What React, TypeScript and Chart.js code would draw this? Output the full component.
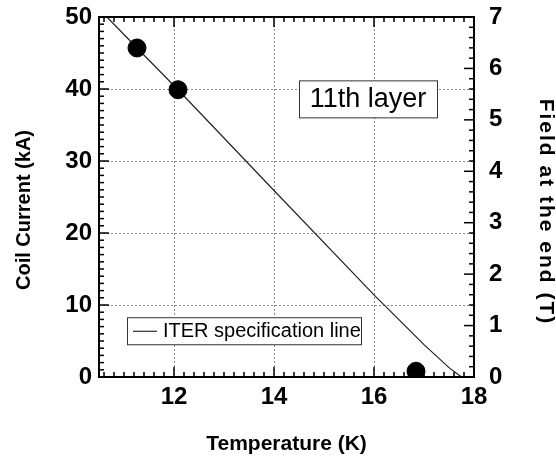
import React, { useEffect, useRef } from 'react';
import { Chart, registerables } from 'chart.js';

Chart.register(...registerables);

// ---- data ----
const specTemperature = [10.66, 11.26, 12.08, 14, 16, 17, 17.5, 17.75];
const specCurrent = [50, 45.7, 39.9, 25.9, 11.4, 4.5, 1.3, 0];
const measTemperature = [11.26, 12.08, 16.84];
const measCurrent = [45.7, 39.9, 0.8];
const xTicks = [12, 14, 16, 18];
const yTicks = [0, 10, 20, 30, 40, 50];
const y2Ticks = [0, 1, 2, 3, 4, 5, 6, 7];
const xTitle = 'Temperature (K)';
const yTitle = 'Coil Current (kA)';
const y2Title = 'Field at the end (T)';
const legendLabel = 'ITER specification line';
const annotationText = '11th layer';

const FONT = '"Liberation Sans", Arial, Helvetica, sans-serif';

const framePlugin = {
  id: 'frame',
  beforeDatasetsDraw(chart: any) {
    const { ctx, chartArea: a, scales } = chart;
    ctx.save();
    ctx.strokeStyle = '#8c8c8c';
    ctx.lineWidth = 1;
    ctx.setLineDash([2, 2]);
    xTicks.forEach((v) => {
      if (v <= scales.x.min || v >= scales.x.max) return;
      const px = Math.round(scales.x.getPixelForValue(v)) + 0.5;
      ctx.beginPath();
      ctx.moveTo(px, a.top);
      ctx.lineTo(px, a.bottom);
      ctx.stroke();
    });
    yTicks.forEach((v) => {
      if (v <= scales.y.min || v >= scales.y.max) return;
      const py = Math.round(scales.y.getPixelForValue(v)) + 0.5;
      ctx.beginPath();
      ctx.moveTo(a.left, py);
      ctx.lineTo(a.right, py);
      ctx.stroke();
    });
    ctx.restore();
  },
  afterDatasetsDraw(chart: any) {
    const { ctx, chartArea: a, scales } = chart;
    ctx.save();
    ctx.setLineDash([]);
    ctx.strokeStyle = '#000';
    ctx.lineWidth = 1.5;
    const major = 10;
    const minor = 5;
    for (let k = Math.ceil(scales.x.min * 5); k <= Math.floor(scales.x.max * 5); k++) {
      const v = k / 5;
      const isMajor = xTicks.some((t) => Math.abs(t - v) < 1e-6);
      const len = isMajor ? major : minor;
      const px = scales.x.getPixelForValue(v);
      ctx.beginPath();
      ctx.moveTo(px, a.bottom);
      ctx.lineTo(px, a.bottom - len);
      ctx.moveTo(px, a.top);
      ctx.lineTo(px, a.top + len);
      ctx.stroke();
    }
    for (let v = scales.y.min; v <= scales.y.max; v += 1) {
      const isMajor = yTicks.includes(v);
      const len = isMajor ? major : minor;
      const py = scales.y.getPixelForValue(v);
      ctx.beginPath();
      ctx.moveTo(a.left, py);
      ctx.lineTo(a.left + len, py);
      ctx.stroke();
    }
    for (let k = 0; k <= Math.round(scales.y2.max * 5); k++) {
      const v = k / 5;
      const isMajor = y2Ticks.some((t) => Math.abs(t - v) < 1e-6);
      const len = isMajor ? major : minor;
      const py = scales.y2.getPixelForValue(v);
      ctx.beginPath();
      ctx.moveTo(a.right, py);
      ctx.lineTo(a.right - len, py);
      ctx.stroke();
    }
    ctx.lineWidth = 2;
    ctx.strokeRect(a.left, a.top, a.right - a.left, a.bottom - a.top);

    // legend box
    const lx = scales.x.getPixelForValue(11.06);
    const ly = scales.y.getPixelForValue(8.3);
    const lw = 234;
    const lh = 27;
    ctx.fillStyle = '#fff';
    ctx.fillRect(lx, ly, lw, lh);
    ctx.lineWidth = 1;
    ctx.strokeStyle = '#333';
    ctx.strokeRect(lx + 0.5, ly + 0.5, lw, lh);
    ctx.strokeStyle = '#000';
    ctx.beginPath();
    ctx.moveTo(lx + 6, ly + lh / 2 + 0.5);
    ctx.lineTo(lx + 30, ly + lh / 2 + 0.5);
    ctx.stroke();
    ctx.fillStyle = '#000';
    ctx.font = `20px ${FONT}`;
    ctx.textAlign = 'left';
    ctx.textBaseline = 'middle';
    ctx.fillText(legendLabel, lx + 36, ly + lh / 2 + 1);

    // annotation box
    const ax = scales.x.getPixelForValue(14.5);
    const ay = scales.y.getPixelForValue(41.2);
    const aw = 138;
    const ah = 37;
    ctx.fillStyle = '#fff';
    ctx.fillRect(ax, ay, aw, ah);
    ctx.strokeStyle = '#333';
    ctx.strokeRect(ax + 0.5, ay + 0.5, aw, ah);
    ctx.fillStyle = '#000';
    ctx.font = `27px ${FONT}`;
    ctx.textAlign = 'center';
    ctx.fillText(annotationText, ax + aw / 2, ay + ah / 2 + 1);

    // y titles
    ctx.font = `bold 20px ${FONT}`;
    ctx.save();
    ctx.translate(24, 210);
    ctx.rotate(-Math.PI / 2);
    ctx.fillText(yTitle, 0, 0);
    ctx.restore();
    ctx.save();
    ctx.font = `bold 21px ${FONT}`;
    ctx.translate(546, 212);
    ctx.rotate(Math.PI / 2);
    (ctx as any).letterSpacing = '2px';
    ctx.fillText(y2Title, 0, 0);
    ctx.restore();

    ctx.restore();
  },
};

export default function App() {
  const ref = useRef<HTMLCanvasElement | null>(null);
  useEffect(() => {
    if (!ref.current) return;
    const tickFont = { family: FONT, size: 24, weight: 'bold' as const };
    const chart = new Chart(ref.current, {
      type: 'scatter',
      data: {
        datasets: [
          {
            label: legendLabel,
            data: specTemperature.map((t, i) => ({ x: t, y: specCurrent[i] })),
            showLine: true,
            borderColor: '#222',
            borderWidth: 1.2,
            pointRadius: 0,
            tension: 0,
            yAxisID: 'y',
            order: 2,
          },
          {
            label: 'Measured',
            data: measTemperature.map((t, i) => ({ x: t, y: measCurrent[i] })),
            showLine: false,
            backgroundColor: '#000',
            borderColor: '#000',
            pointRadius: 9,
            yAxisID: 'y',
            clip: 0,
            order: 1,
          },
        ],
      },
      options: {
        animation: false,
        responsive: true,
        maintainAspectRatio: false,
        layout: { padding: { top: 17, left: 0, right: 0, bottom: 0 } },
        plugins: { legend: { display: false }, tooltip: { enabled: false } },
        scales: {
          x: {
            type: 'linear',
            min: 10.5,
            max: 18,
            afterBuildTicks: (s: any) => {
              s.ticks = xTicks.map((v) => ({ value: v }));
            },
            grid: { display: false, drawTicks: false },
            border: { display: false },
            ticks: { font: tickFont, color: '#000', padding: 6, maxRotation: 0 },
            title: {
              display: true,
              text: xTitle,
              color: '#000',
              font: { family: FONT, size: 21, weight: 'bold' },
              padding: { top: 0, bottom: 3 },
            },
            afterFit: (s: any) => {
              s.height = 83;
              s.paddingLeft = 0;
              s.paddingRight = 0;
            },
          },
          y: {
            type: 'linear',
            position: 'left',
            min: 0,
            max: 50,
            afterBuildTicks: (s: any) => {
              s.ticks = yTicks.map((v) => ({ value: v }));
            },
            grid: { display: false, drawTicks: false },
            border: { display: false },
            ticks: { font: tickFont, color: '#000', padding: 7 },
            afterFit: (s: any) => {
              s.width = 99;
              s.paddingTop = 0;
              s.paddingBottom = 0;
            },
          },
          y2: {
            type: 'linear',
            position: 'right',
            min: 0,
            max: 7,
            afterBuildTicks: (s: any) => {
              s.ticks = y2Ticks.map((v) => ({ value: v }));
            },
            grid: { display: false, drawTicks: false },
            border: { display: false },
            ticks: { font: tickFont, color: '#000', padding: 15 },
            afterFit: (s: any) => {
              s.width = 82;
              s.paddingTop = 0;
              s.paddingBottom = 0;
            },
          },
        },
      },
      plugins: [framePlugin],
    } as any);
    return () => chart.destroy();
  }, []);
  return (
    <div style={{ position: 'fixed', left: 0, top: 0, width: 556, height: 460, background: '#fff' }}>
      <canvas ref={ref} />
    </div>
  );
}
